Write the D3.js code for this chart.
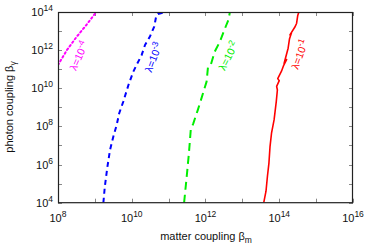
<!DOCTYPE html>
<html><head><meta charset="utf-8">
<script src="https://cdn.jsdelivr.net/npm/d3@7"></script>
<style>
html,body{margin:0;padding:0;background:#fff;}
text{font-family:"Liberation Sans",Arial,sans-serif;}
</style></head>
<body><svg id="c" width="368" height="248"></svg>
<script>
// Axis tick values
const xTicks = [1e8,1e9,1e10,1e11,1e12,1e13,1e14,1e15,1e16];
const xTickLabels = [1e8,1e10,1e12,1e14,1e16];
const yTicks = [1e4,1e5,1e6,1e7,1e8,1e9,1e10,1e11,1e12,1e13,1e14];
const yTickLabels = [1e4,1e6,1e8,1e10,1e12,1e14];

// lambda = 1e-4 (magenta dotted)
const m4 = [1e8, 1.74e8, 3.2e8, 5.4e8, 1.05e9];
const g4 = [1.66e11, 1.0e12, 5.0e12, 1.7e13, 9.1e13];
// lambda = 1e-3 (blue dashed)
const m3 = [1.7e9,1.86e9,2.19e9,2.57e9,3.16e9,3.89e9,4.57e9,5.89e9,8.13e9,1.1e10,1.35e10,1.86e10,2.29e10,3.09e10,4.07e10,4.57e10,5.13e10,8.3e10];
const g3 = [1e4,6.9e4,7.8e5,5.75e6,2.9e7,1.17e8,4.9e8,2.0e9,1.48e10,7.4e10,1.66e11,5.6e11,1.86e12,5.0e12,1.7e13,5.6e13,7.9e13,1e14];
// lambda = 1e-2 (green dashed)
const m2 = [2.63e11,3.09e11,3.55e11,3.98e11,4.68e11,6.17e11,7.76e11,1.07e12,1.17e12,1.41e12,1.78e12,2.45e12,3.39e12,4.17e12,4.57e12,4.7e12];
const g2 = [1e4,2.3e5,3.9e6,6.5e7,1.45e8,7.2e8,2.95e9,2.24e10,1.35e11,1.86e11,8.3e11,2.75e12,1.41e13,3.8e13,9.5e13,1e14];
// lambda = 1e-1 (red solid)
const m1 = [3.8e13,4.37e13,4.79e13,5.25e13,5.62e13,6.17e13,7.24e13,8.3e13,8.9e13,8.5e13,1.0e14,9.1e13,1.15e14,1.32e14,1.58e14,1.35e14,1.74e14,1.9e14,2.14e14,1.95e14,2.63e14,2.95e14,3.16e14,3.4e14,3.5e14];
const g1 = [1e4,4.0e4,2.5e5,1.2e6,8.7e6,4.4e7,2.2e8,2.0e9,8.1e9,1.26e10,2.5e10,3.2e10,7.9e10,1.6e11,3.2e11,2.0e11,1.26e12,4.0e12,7.9e12,6.3e12,1.58e13,2.5e13,6.3e13,1e14,1e14];

const series = [
  {x:m4, y:g4, color:"#ff00ff", dash:"1.6,2.8", cap:"round", w:2.0},
  {x:m3, y:g3, color:"#0000ff", dash:"5,4", cap:"butt", w:2.0},
  {x:m2, y:g2, color:"#00ee00", dash:"8,5", cap:"butt", w:2.0},
  {x:m1, y:g1, color:"#ff0000", dash:null, cap:"butt", w:1.6}
];
const labels = [
  {exp:"-4", color:"#ff00ff", x:3.7e8, y:5.0e11, rot:-66},
  {exp:"-3", color:"#0000ff", x:3.9e10, y:4.2e11, rot:-69},
  {exp:"-2", color:"#00ee00", x:4.2e12, y:5.0e11, rot:-63},
  {exp:"-1", color:"#ff0000", x:3.6e14, y:6.0e11, rot:-70}
];

const svg = d3.select("#c");
const L=58, R=353, T=12, B=202.7;
const x = d3.scaleLog().domain([1e8,1e16]).range([L,R]);
const y = d3.scaleLog().domain([1e4,1e14]).range([B,T]);

const exp = v => Math.round(Math.log10(v));

svg.append("clipPath").attr("id","clip").append("rect").attr("x",L).attr("y",T).attr("width",R-L).attr("height",B-T);

// ticks (inner, all four sides)
const tl = 4;
const tg = svg.append("g").attr("stroke","#888").attr("stroke-width",1);
xTicks.forEach(v=>{
  const px = Math.round(x(v))+0.5;
  tg.append("line").attr("x1",px).attr("x2",px).attr("y1",B).attr("y2",B-tl);
  tg.append("line").attr("x1",px).attr("x2",px).attr("y1",T).attr("y2",T+tl);
});
yTicks.forEach(v=>{
  const py = Math.round(y(v))+0.5;
  tg.append("line").attr("x1",L).attr("x2",L+tl).attr("y1",py).attr("y2",py);
  tg.append("line").attr("x1",R).attr("x2",R-tl).attr("y1",py).attr("y2",py);
});

// lines
const line = d3.line().x(d=>x(d[0])).y(d=>y(d[1]));
const lg = svg.append("g").attr("clip-path","url(#clip)");
series.forEach(s=>{
  const pts = s.x.map((v,i)=>[v,s.y[i]]);
  const p = lg.append("path").attr("d",line(pts)).attr("fill","none")
    .attr("stroke",s.color).attr("stroke-width",s.w).attr("stroke-linecap",s.cap).attr("stroke-linejoin","round");
  if(s.dash) p.attr("stroke-dasharray",s.dash);
});

// frame
svg.append("rect").attr("x",L+0.5).attr("y",T+0.5).attr("width",R-L-1).attr("height",B-T-0.5)
  .attr("fill","none").attr("stroke","#222").attr("stroke-width",1.2);

// tick labels
xTickLabels.forEach(v=>{
  const t = svg.append("text").attr("x",x(v)).attr("y",B+19).attr("text-anchor","middle")
    .attr("font-size",11).attr("fill","#111");
  t.append("tspan").text("10");
  t.append("tspan").attr("dy",-5).attr("font-size",8.5).text(exp(v));
});
yTickLabels.forEach(v=>{
  const t = svg.append("text").attr("x",L-5).attr("y",y(v)+4).attr("text-anchor","end")
    .attr("font-size",11).attr("fill","#111");
  t.append("tspan").text("10");
  t.append("tspan").attr("dy",-5).attr("font-size",8.5).text(exp(v));
});

// axis titles
const xt = svg.append("text").attr("x",206).attr("y",240).attr("text-anchor","middle").attr("font-size",11).attr("fill","#111");
xt.append("tspan").text("matter coupling β");
xt.append("tspan").attr("dy",3).attr("font-size",8.5).text("m");
const yt = svg.append("text").attr("transform","translate(13,107) rotate(-90)").attr("text-anchor","middle").attr("font-size",11).attr("fill","#111");
yt.append("tspan").text("photon coupling β");
yt.append("tspan").attr("dy",3).attr("font-size",8.5).text("γ");

// curve labels
labels.forEach(l=>{
  const t = svg.append("text").attr("transform",`translate(${x(l.x)},${y(l.y)}) rotate(${l.rot})`)
    .attr("text-anchor","middle").attr("font-size",10.5).attr("fill",l.color);
  t.append("tspan").attr("dy","0.35em").text("λ=10");
  t.append("tspan").attr("dy",-4).attr("font-size",8.5).text(l.exp);
});
</script></body></html>
